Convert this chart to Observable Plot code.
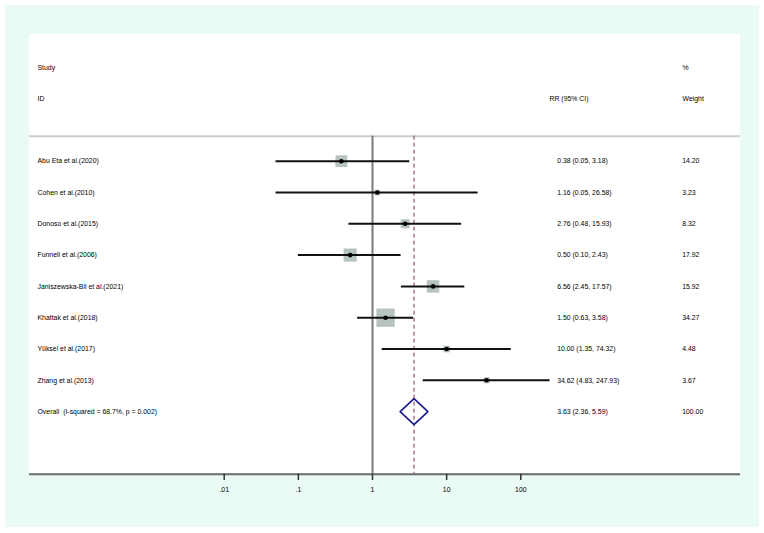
<!DOCTYPE html>
<html>
<head>
<meta charset="utf-8">
<script src="https://cdn.jsdelivr.net/npm/d3@7"></script>
<script src="https://cdn.jsdelivr.net/npm/@observablehq/plot@0.6"></script>
<style>
  html, body { margin: 0; padding: 0; background: #ffffff; }
  #wrap { position: relative; width: 764px; height: 533px; overflow: hidden; }
  #mint { position: absolute; left: 5px; top: 5px; width: 754px; height: 522px; background: #eafaf4; }
  #panel { position: absolute; left: 29px; top: 34px; width: 711px; height: 441px; background: #ffffff; }
  #chart { position: absolute; left: 0; top: 0; }
</style>
</head>
<body>
<div id="wrap">
  <div id="mint"></div>
  <div id="panel"></div>
  <div id="chart"></div>
</div>
<script>
// ---- data ----
const studies = ["Abu Eta et al.(2020)", "Cohen et al.(2010)", "Donoso et al.(2015)", "Funnell et al.(2006)",
  "Janiszewska-Bil et al.(2021)", "Khattak et al.(2018)", "Yüksel et al.(2017)", "Zhang et al.(2013)"];
const rr     = [0.38, 1.16, 2.76, 0.50, 6.56, 1.50, 10.00, 34.62];
const lower  = [0.05, 0.05, 0.48, 0.10, 2.45, 0.63, 1.35, 4.83];
const upper  = [3.18, 26.58, 15.93, 2.43, 17.57, 3.58, 74.32, 247.93];
const weight = [14.20, 3.23, 8.32, 17.92, 15.92, 34.27, 4.48, 3.67];
const overallLabel = "Overall  (I-squared = 68.7%, p = 0.002)";
const overallRR = 3.63, overallLower = 2.36, overallUpper = 5.59, overallWeight = 100.00;
const tickValues = [0.01, 0.1, 1, 10, 100];
const tickLabels = [".01", ".1", "1", "10", "100"];
const headers = [
  {row: -3, text: "Study", col: "left"},
  {row: -2, text: "ID", col: "left"},
  {row: -2, text: "RR (95% CI)", col: "ci"},
  {row: -3, text: "%", col: "w"},
  {row: -2, text: "Weight", col: "w"}
];

// ---- table built from arrays ----
const rows = studies.map((s, i) => ({
  row: i, study: s, rr: rr[i], lo: lower[i], hi: upper[i], w: weight[i],
  ci: `${rr[i].toFixed(2)} (${lower[i].toFixed(2)}, ${upper[i].toFixed(2)})`,
  wt: weight[i].toFixed(2)
}));
const oRow = studies.length;
const overall = {row: oRow, study: overallLabel,
  ci: `${overallRR.toFixed(2)} (${overallLower.toFixed(2)}, ${overallUpper.toFixed(2)})`,
  wt: overallWeight.toFixed(2)};
const textRows = [...rows, overall];
const half = 0.415;
const diamond = [
  {x: overallLower, y: oRow}, {x: overallRR, y: oRow - half},
  {x: overallUpper, y: oRow}, {x: overallRR, y: oRow + half}, {x: overallLower, y: oRow}
];
const sepRow = -0.8, axisRow = 10;

const font = "'Liberation Sans', Arial, Helvetica, sans-serif";
const fs = 6.9;
const txtFill = "#000";
const colDx = {left: 37, ci: 549, w: 682};

const plot = Plot.plot({
  width: 764,
  height: 533,
  marginTop: 0, marginLeft: 0, marginRight: 0, marginBottom: 58.5,
  style: {background: "transparent", fontFamily: font, fontSize: fs + "px"},
  x: {type: "log", domain: [0.01, 100], range: [223.7, 520.3], axis: null},
  y: {type: "linear", domain: [0, 8], range: [160.7, 411.1], axis: null},
  r: {type: "sqrt", domain: [0, 34.27], range: [0, 18.3 / Math.sqrt(Math.PI)]},
  marks: [
    Plot.ruleY([sepRow], {stroke: "#c9cecd", strokeWidth: 2, insetLeft: 29, insetRight: 24}),
    Plot.ruleX([1], {y1: sepRow, y2: axisRow, stroke: "#7a7a7a", strokeWidth: 2}),
    Plot.ruleX([overallRR], {y1: sepRow, y2: axisRow, stroke: "#84304e", strokeWidth: 1, strokeDasharray: "4,3"}),
    Plot.dot(rows, {x: "rr", y: "row", r: "w", symbol: "square", fill: "#b7c3c0", stroke: "none"}),
    Plot.ruleY(rows, {y: "row", x1: "lo", x2: "hi", stroke: "#111", strokeWidth: 2}),
    Plot.dot(rows, {x: "rr", y: "row", symbol: "circle", r: 2.3, fill: "#000", stroke: "none"}),
    Plot.line(diamond, {x: "x", y: "y", stroke: "#1a1a8f", strokeWidth: 1.6, strokeLinejoin: "miter"}),
    Plot.ruleY([axisRow], {stroke: "#666d6b", strokeWidth: 2, insetLeft: 29, insetRight: 24}),
    Plot.ruleX(tickValues, {x: d => d, y1: axisRow, y2: axisRow + 0.2, stroke: "#333", strokeWidth: 1.5}),
    Plot.text(tickValues, {x: d => d, y: axisRow + 0.49, text: (d, i) => tickLabels[i], fontSize: fs, fill: txtFill, textAnchor: "middle"}),
    ...["left", "ci", "w"].map(c => Plot.text(headers.filter(h => h.col === c), {y: "row", text: "text", frameAnchor: "left", dx: colDx[c], fontSize: fs, fill: txtFill, textAnchor: "start"})),
    Plot.text(textRows, {y: "row", text: "study", frameAnchor: "left", dx: 37, fontSize: fs, fill: txtFill, textAnchor: "start"}),
    Plot.text(textRows, {y: "row", text: "ci", frameAnchor: "left", dx: 556.7, fontSize: fs, fill: txtFill, textAnchor: "start"}),
    Plot.text(textRows, {y: "row", text: "wt", frameAnchor: "left", dx: 681.7, fontSize: fs, fill: txtFill, textAnchor: "start"})
  ]
});
document.getElementById("chart").appendChild(plot);
</script>
</body>
</html>
